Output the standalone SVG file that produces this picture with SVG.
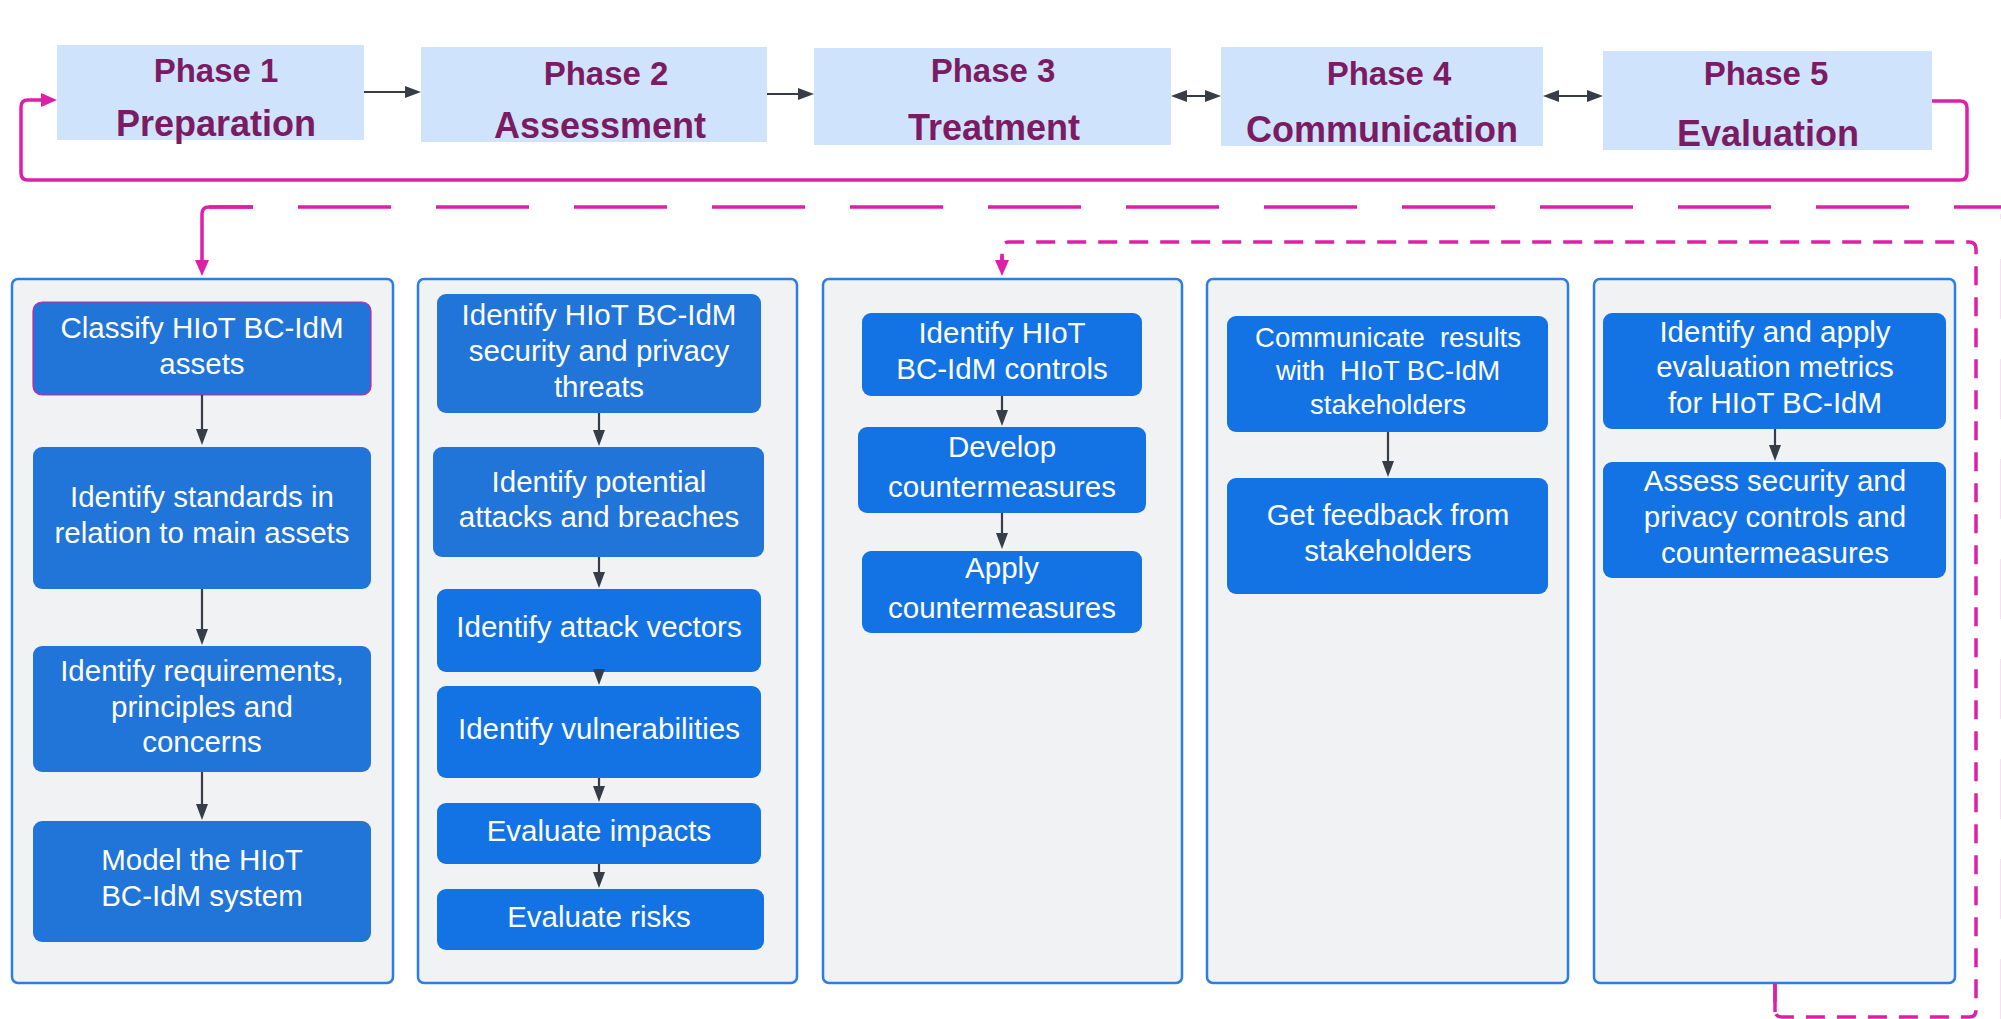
<svg xmlns="http://www.w3.org/2000/svg" width="2001" height="1019" viewBox="0 0 2001 1019">
  <style>
    .phase { fill: #cfe4fc; }
    .ptxt { font-family: "Liberation Sans", Arial, sans-serif; font-weight: bold; font-size: 33px; fill: #7b1b63; text-anchor: middle; }
    .pname { font-size: 36px; }
    .col { fill: #f1f2f4; stroke: #2b7fe3; stroke-width: 2.5; }
    .boxA { fill: #2174d8; }
    .boxB { fill: #1373e5; }
    .btxt { font-family: "Liberation Sans", Arial, sans-serif; font-size: 29.5px; fill: #ffffff; text-anchor: middle; }
    .small { font-size: 27.5px; }
    .dark { stroke: #373d47; stroke-width: 2.2; fill: none; }
    .pink { stroke: #de1fa8; stroke-width: 3.5; fill: none; }
  </style>
  <defs>
    <marker id="ah" viewBox="0 0 16 12" refX="8" refY="6" markerWidth="16" markerHeight="12" markerUnits="userSpaceOnUse" orient="auto-start-reverse">
      <path d="M0,0 L16,6 L0,12 z" fill="#373d47"/>
    </marker>
    <marker id="ahp" viewBox="0 0 16 14" refX="8" refY="7" markerWidth="16" markerHeight="14" markerUnits="userSpaceOnUse" orient="auto">
      <path d="M0,0 L16,7 L0,14 z" fill="#de1fa8"/>
    </marker>
  </defs>
  <rect width="2001" height="1019" fill="#ffffff"/>

  <!-- phase headers -->
  <g id="phase1">
    <rect class="phase" x="57" y="45" width="307" height="95"/>
    <text class="ptxt" x="216" y="82">Phase 1</text>
    <text class="ptxt pname" x="216" y="136">Preparation</text>
  </g>
  <g id="phase2">
    <rect class="phase" x="421" y="47" width="346" height="95"/>
    <text class="ptxt" x="606" y="85">Phase 2</text>
    <text class="ptxt pname" x="600" y="138">Assessment</text>
  </g>
  <g id="phase3">
    <rect class="phase" x="814" y="48" width="357" height="97"/>
    <text class="ptxt" x="993" y="82">Phase 3</text>
    <text class="ptxt pname" x="994" y="140">Treatment</text>
  </g>
  <g id="phase4">
    <rect class="phase" x="1221" y="47" width="322" height="99"/>
    <text class="ptxt" x="1389" y="85">Phase 4</text>
    <text class="ptxt pname" x="1382" y="142">Communication</text>
  </g>
  <g id="phase5">
    <rect class="phase" x="1603" y="51" width="329" height="99"/>
    <text class="ptxt" x="1766" y="85">Phase 5</text>
    <text class="ptxt pname" x="1768" y="146">Evaluation</text>
  </g>

  <!-- column 1: preparation -->
  <g id="col1">
    <rect class="col" x="12" y="279" width="381" height="704" rx="6"/>
    <g id="c1b1">
      <rect class="boxA" x="33" y="302" width="338" height="93" rx="9" stroke="#d9219f" stroke-width="1.2"/>
      <text class="btxt" x="202" y="338">Classify HIoT BC-IdM</text>
      <text class="btxt" x="202" y="374">assets</text>
    </g>
    <g id="c1b2">
      <rect class="boxA" x="33" y="447" width="338" height="142" rx="9"/>
      <text class="btxt" x="202" y="507">Identify standards in</text>
      <text class="btxt" x="202" y="543">relation to main assets</text>
    </g>
    <g id="c1b3">
      <rect class="boxA" x="33" y="646" width="338" height="126" rx="9"/>
      <text class="btxt" x="202" y="681">Identify requirements,</text>
      <text class="btxt" x="202" y="717">principles and</text>
      <text class="btxt" x="202" y="752">concerns</text>
    </g>
    <g id="c1b4">
      <rect class="boxA" x="33" y="821" width="338" height="121" rx="9"/>
      <text class="btxt" x="202" y="870">Model the HIoT</text>
      <text class="btxt" x="202" y="906">BC-IdM system</text>
    </g>
  </g>

  <!-- column 2: assessment -->
  <g id="col2">
    <rect class="col" x="418" y="279" width="379" height="704" rx="6"/>
    <g id="c2b1">
      <rect class="boxA" x="437" y="294" width="324" height="119" rx="9"/>
      <text class="btxt" x="599" y="325">Identify HIoT BC-IdM</text>
      <text class="btxt" x="599" y="361">security and privacy</text>
      <text class="btxt" x="599" y="397">threats</text>
    </g>
    <g id="c2b2">
      <rect class="boxA" x="433" y="447" width="331" height="110" rx="9"/>
      <text class="btxt" x="599" y="492">Identify potential</text>
      <text class="btxt" x="599" y="527">attacks and breaches</text>
    </g>
    <g id="c2b3">
      <rect class="boxB" x="437" y="589" width="324" height="83" rx="9"/>
      <text class="btxt" x="599" y="637">Identify attack vectors</text>
    </g>
    <g id="c2b4">
      <rect class="boxB" x="437" y="686" width="324" height="92" rx="9"/>
      <text class="btxt" x="599" y="739">Identify vulnerabilities</text>
    </g>
    <g id="c2b5">
      <rect class="boxB" x="437" y="803" width="324" height="61" rx="9"/>
      <text class="btxt" x="599" y="841">Evaluate impacts</text>
    </g>
    <g id="c2b6">
      <rect class="boxB" x="437" y="889" width="327" height="61" rx="9"/>
      <text class="btxt" x="599" y="927">Evaluate risks</text>
    </g>
  </g>

  <!-- column 3: treatment -->
  <g id="col3">
    <rect class="col" x="823" y="279" width="359" height="704" rx="6"/>
    <g id="c3b1">
      <rect class="boxB" x="862" y="313" width="280" height="83" rx="9"/>
      <text class="btxt" x="1002" y="343">Identify HIoT</text>
      <text class="btxt" x="1002" y="379">BC-IdM controls</text>
    </g>
    <g id="c3b2">
      <rect class="boxB" x="858" y="427" width="288" height="86" rx="9"/>
      <text class="btxt" x="1002" y="457">Develop</text>
      <text class="btxt" x="1002" y="497">countermeasures</text>
    </g>
    <g id="c3b3">
      <rect class="boxB" x="862" y="551" width="280" height="82" rx="9"/>
      <text class="btxt" x="1002" y="578">Apply</text>
      <text class="btxt" x="1002" y="618">countermeasures</text>
    </g>
  </g>

  <!-- column 4: communication -->
  <g id="col4">
    <rect class="col" x="1207" y="279" width="361" height="704" rx="6"/>
    <g id="c4b1">
      <rect class="boxB" x="1227" y="316" width="321" height="116" rx="9"/>
      <text class="btxt small" x="1388" y="347" xml:space="preserve">Communicate  results</text>
      <text class="btxt small" x="1388" y="380" xml:space="preserve">with  HIoT BC-IdM</text>
      <text class="btxt small" x="1388" y="414">stakeholders</text>
    </g>
    <g id="c4b2">
      <rect class="boxB" x="1227" y="478" width="321" height="116" rx="9"/>
      <text class="btxt" x="1388" y="525">Get feedback from</text>
      <text class="btxt" x="1388" y="561">stakeholders</text>
    </g>
  </g>

  <!-- column 5: evaluation -->
  <g id="col5">
    <rect class="col" x="1594" y="279" width="361" height="704" rx="6"/>
    <g id="c5b1">
      <rect class="boxB" x="1603" y="313" width="343" height="116" rx="9"/>
      <text class="btxt" x="1775" y="342">Identify and apply</text>
      <text class="btxt" x="1775" y="377">evaluation metrics</text>
      <text class="btxt" x="1775" y="413">for HIoT BC-IdM</text>
    </g>
    <g id="c5b2">
      <rect class="boxB" x="1603" y="462" width="343" height="116" rx="9"/>
      <text class="btxt" x="1775" y="491">Assess security and</text>
      <text class="btxt" x="1775" y="527">privacy controls and</text>
      <text class="btxt" x="1775" y="563">countermeasures</text>
    </g>
  </g>

  <!-- connectors -->
  <g id="connectors">
    <!-- phase sequence -->
    <line class="dark" x1="364" y1="92" x2="413" y2="92" marker-end="url(#ah)"/>
    <line class="dark" x1="767" y1="94" x2="806" y2="94" marker-end="url(#ah)"/>
    <line class="dark" x1="1179" y1="96" x2="1213" y2="96" marker-start="url(#ah)" marker-end="url(#ah)"/>
    <line class="dark" x1="1551" y1="96" x2="1595" y2="96" marker-start="url(#ah)" marker-end="url(#ah)"/>

    <!-- feedback loop from evaluation back to preparation -->
    <path class="pink" d="M1932,101 H1960 Q1967,101 1967,108 V173 Q1967,180 1960,180 H28 Q21,180 21,173 V107 Q21,100 28,100 H49" marker-end="url(#ahp)"/>

    <!-- long-dashed link into the preparation column (runs in along the right edge) -->
    <path class="pink" d="M2002,1019 V214" stroke-dasharray="60 40" opacity="0.2"/>
    <path class="pink" d="M209,207 H2010" stroke-dasharray="93 45" stroke-dashoffset="49"/>
    <path class="pink" d="M253,207 H209 Q202,207 202,214 V268" marker-end="url(#ahp)"/>

    <!-- short-dashed link from evaluation to treatment -->
    <path class="pink" d="M1775,983 V1010 Q1775,1017 1782,1017 H1969 Q1976,1017 1976,1010 V249 Q1976,242 1969,242 H1009 Q1002,242 1002,249 V264" stroke-dasharray="19 12"/>
    <path class="pink" d="M1002,256 V268" marker-end="url(#ahp)"/>
    <path class="pink" d="M1775,983 V1012"/>

    <!-- column 1 steps -->
    <line class="dark" x1="202" y1="395" x2="202" y2="437" marker-end="url(#ah)"/>
    <line class="dark" x1="202" y1="589" x2="202" y2="637" marker-end="url(#ah)"/>
    <line class="dark" x1="202" y1="772" x2="202" y2="812" marker-end="url(#ah)"/>
    <!-- column 2 steps -->
    <line class="dark" x1="599" y1="413" x2="599" y2="438" marker-end="url(#ah)"/>
    <line class="dark" x1="599" y1="557" x2="599" y2="580" marker-end="url(#ah)"/>
    <line class="dark" x1="599" y1="670" x2="599" y2="677" marker-end="url(#ah)"/>
    <line class="dark" x1="599" y1="778" x2="599" y2="794" marker-end="url(#ah)"/>
    <line class="dark" x1="599" y1="864" x2="599" y2="880" marker-end="url(#ah)"/>
    <!-- column 3 steps -->
    <line class="dark" x1="1002" y1="396" x2="1002" y2="418" marker-end="url(#ah)"/>
    <line class="dark" x1="1002" y1="513" x2="1002" y2="541" marker-end="url(#ah)"/>
    <!-- column 4 step -->
    <line class="dark" x1="1388" y1="432" x2="1388" y2="469" marker-end="url(#ah)"/>
    <!-- column 5 step -->
    <line class="dark" x1="1775" y1="429" x2="1775" y2="453" marker-end="url(#ah)"/>
  </g>
</svg>
